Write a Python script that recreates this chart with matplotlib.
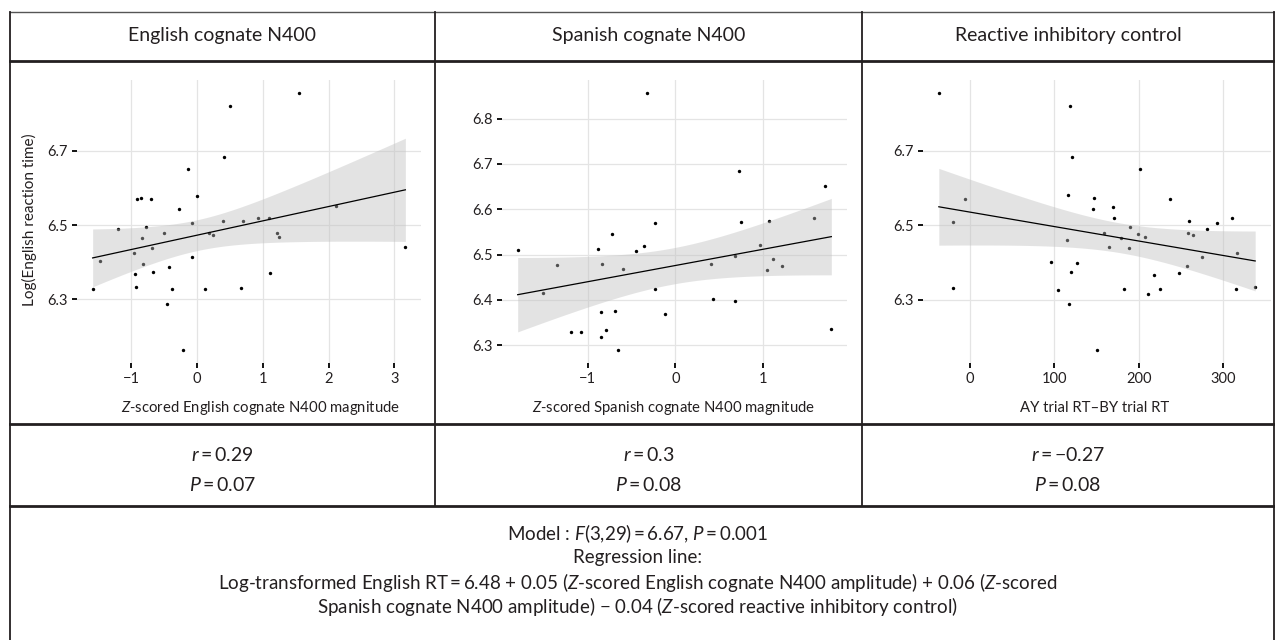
import numpy as np
import matplotlib
matplotlib.use('Agg')
import matplotlib.pyplot as plt

plt.rcParams['font.family'] = ['Lato', 'DejaVu Sans']
plt.rcParams['mathtext.fontset'] = 'custom'
plt.rcParams['mathtext.rm'] = 'Lato'
plt.rcParams['mathtext.it'] = 'Lato:italic'
plt.rcParams['mathtext.bf'] = 'Lato:bold'

# ---------------- data ----------------
eng_x = [-1.586, -1.479, -1.206, -0.952, -0.942, -0.927, -0.912, -0.846, -0.831, -0.826,
         -0.770, -0.694, -0.679, -0.674, -0.507, -0.461, -0.431, -0.385, -0.279, -0.213,
         -0.137, -0.081, -0.081, 0.000, 0.122, 0.177, 0.243, 0.395, 0.410, 0.496,
         0.664, 0.704, 0.927, 1.099, 1.104, 1.211, 1.241, 1.550, 2.112, 3.166]
eng_y = [6.328, 6.402, 6.488, 6.424, 6.367, 6.333, 6.570, 6.573, 6.464, 6.396,
         6.494, 6.569, 6.439, 6.374, 6.478, 6.287, 6.388, 6.328, 6.543, 6.163,
         6.650, 6.505, 6.413, 6.579, 6.327, 6.478, 6.474, 6.512, 6.683, 6.821,
         6.331, 6.510, 6.520, 6.519, 6.371, 6.479, 6.467, 6.856, 6.550, 6.441]

spa_x = [-1.795, -1.510, -1.350, -1.190, -1.076, -0.886, -0.848, -0.844, -0.837, -0.795,
         -0.726, -0.684, -0.650, -0.597, -0.452, -0.361, -0.327, -0.236, -0.228, -0.114,
         0.411, 0.426, 0.677, 0.681, 0.722, 0.749, 0.962, 1.042, 1.068, 1.114,
         1.213, 1.578, 1.707, 1.776]
spa_y = [6.511, 6.416, 6.478, 6.329, 6.329, 6.513, 6.373, 6.317, 6.480, 6.333,
         6.545, 6.376, 6.289, 6.469, 6.507, 6.519, 6.857, 6.425, 6.570, 6.368,
         6.480, 6.403, 6.398, 6.496, 6.684, 6.571, 6.521, 6.466, 6.574, 6.490,
         6.475, 6.581, 6.651, 6.335]

inh_x = [-36.3, -19.9, -19.5, -4.8, 96.1, 104.1, 114.9, 116.1, 118.1, 118.9,
         119.3, 120.5, 126.8, 145.6, 147.6, 150.8, 158.4, 164.7, 169.5, 170.3,
         178.7, 182.3, 187.9, 189.1, 198.6, 201.0, 207.8, 211.4, 217.4, 225.0,
         236.6, 246.9, 257.3, 257.7, 259.3, 264.5, 274.4, 280.4, 292.8, 310.7,
         314.7, 315.5, 337.5]
inh_y = [6.856, 6.510, 6.333, 6.570, 6.403, 6.326, 6.462, 6.581, 6.289, 6.822,
         6.375, 6.684, 6.399, 6.544, 6.574, 6.165, 6.479, 6.442, 6.550, 6.519,
         6.465, 6.329, 6.440, 6.495, 6.478, 6.651, 6.469, 6.317, 6.368, 6.329,
         6.571, 6.372, 6.390, 6.479, 6.513, 6.475, 6.415, 6.490, 6.506, 6.521,
         6.328, 6.425, 6.334]

headers = ['English cognate N400', 'Spanish cognate N400', 'Reactive inhibitory control']
xlabels = [r'$Z$-scored English cognate N400 magnitude',
           r'$Z$-scored Spanish cognate N400 magnitude',
           'AY trial RT\u2013BY trial RT']
ylabel = 'Log(English reaction time)'
xticks = [[-1, 0, 1, 2, 3], [-1, 0, 1], [0, 100, 200, 300]]
yticks = [[6.3, 6.5, 6.7], [6.3, 6.4, 6.5, 6.6, 6.7, 6.8], [6.3, 6.5, 6.7]]
r_vals = ['0.29', '0.3', '\u22120.27']
p_vals = ['0.07', '0.08', '0.08']
model_lines = [r'Model : $F$(3,29)$\,$=$\,$6.67, $P$$\,$=$\,$0.001',
               'Regression line:',
               r'Log-transformed English RT$\,$=$\,$6.48 + 0.05 ($Z$-scored English cognate N400 amplitude) + 0.06 ($Z$-scored',
               r'Spanish cognate N400 amplitude) $-$ 0.04 ($Z$-scored reactive inhibitory control)']

# ---------------- layout (pixels) ----------------
W, H = 1275, 640
fig = plt.figure(figsize=(W / 100, H / 100), dpi=100)
bg = fig.add_axes([0, 0, 1, 1])
bg.set_xlim(0, W)
bg.set_ylim(H, 0)
bg.axis('off')

L, R = 10, 1274
col_x = [L, 435, 862, R]
y_top, y_head, y_plot, y_stats = 12, 61, 424, 506
dark = '#231f20'

bg.plot([L, R], [y_top, y_top], color='#555555', lw=1.0)
for yy in (y_head, y_plot, y_stats):
    bg.plot([L, R], [yy, yy], color=dark, lw=2.0)
bg.plot([L, L], [y_top, H], color=dark, lw=1.3)
bg.plot([R, R], [y_top, H], color=dark, lw=1.3)
for cx in col_x[1:3]:
    bg.plot([cx, cx], [y_top, y_stats], color=dark, lw=1.3)

centers = [(col_x[i] + col_x[i + 1]) / 2 for i in range(3)]
for i in range(3):
    bg.text(centers[i], 36, headers[i], ha='center', va='center', fontsize=14, color=dark)
    bg.text(centers[i], 455, r'$r$$\,$=$\,$' + r_vals[i], ha='center', va='center', fontsize=14, color=dark)
    bg.text(centers[i], 485, r'$P$$\,$=$\,$' + p_vals[i], ha='center', va='center', fontsize=14, color=dark)

for k, t in enumerate(model_lines):
    bg.text(W / 2, 534 + k * 24, t, ha='center', va='center', fontsize=13.5, color=dark)

panels = [(77, 421), (502, 847), (923, 1271)]
label_cx = [261, 674, 1095]
py0, py1 = 80, 363
datasets = [(eng_x, eng_y), (spa_x, spa_y), (inh_x, inh_y)]


def fit_band(x, y, n=200, t=2.03):
    x = np.asarray(x, float)
    y = np.asarray(y, float)
    b1, b0 = np.polyfit(x, y, 1)
    xs = np.linspace(x.min(), x.max(), n)
    yhat = b0 + b1 * xs
    resid = y - (b0 + b1 * x)
    s = np.sqrt(np.sum(resid ** 2) / (len(x) - 2))
    se = s * np.sqrt(1 / len(x) + (xs - x.mean()) ** 2 / np.sum((x - x.mean()) ** 2))
    return xs, yhat, yhat - t * se, yhat + t * se


for i, ((x0, x1), (xd, yd)) in enumerate(zip(panels, datasets)):
    ax = fig.add_axes([x0 / W, 1 - py1 / H, (x1 - x0) / W, (py1 - py0) / H])
    ax.set_facecolor('none')
    xd_a, yd_a = np.asarray(xd), np.asarray(yd)
    xr = xd_a.max() - xd_a.min()
    yr = yd_a.max() - yd_a.min()
    ax.set_xlim(xd_a.min() - 0.05 * xr, xd_a.max() + 0.05 * xr)
    ax.set_ylim(yd_a.min() - 0.05 * yr, yd_a.max() + 0.05 * yr)
    for s in ax.spines.values():
        s.set_visible(False)
    ax.set_xticks(xticks[i])
    ax.set_yticks(yticks[i])
    ax.set_xticklabels([str(v).replace('-', '\u2212') for v in xticks[i]])
    ax.set_yticklabels(['%.1f' % v for v in yticks[i]])
    ax.grid(True, color='#e4e4e4', lw=0.9)
    ax.set_axisbelow(True)
    ax.tick_params(direction='out', length=3.5, width=1.3, color='black',
                   labelsize=10.5, labelcolor='#231f20', pad=3)
    ax.scatter(xd, yd, s=6, color='black', lw=0, zorder=2)
    xs, yh, lo, hi = fit_band(xd, yd)
    ax.fill_between(xs, lo, hi, color='#bebebe', alpha=0.42, lw=0, zorder=3)
    ax.plot(xs, yh, color='black', lw=0.9, zorder=4)
    bg.text(label_cx[i], 408, xlabels[i], ha='center', va='center', fontsize=10.7, color=dark)

bg.text(29, 220, ylabel, ha='center', va='center', rotation=90, fontsize=11, color=dark)

fig.savefig('out.png', dpi=100)
